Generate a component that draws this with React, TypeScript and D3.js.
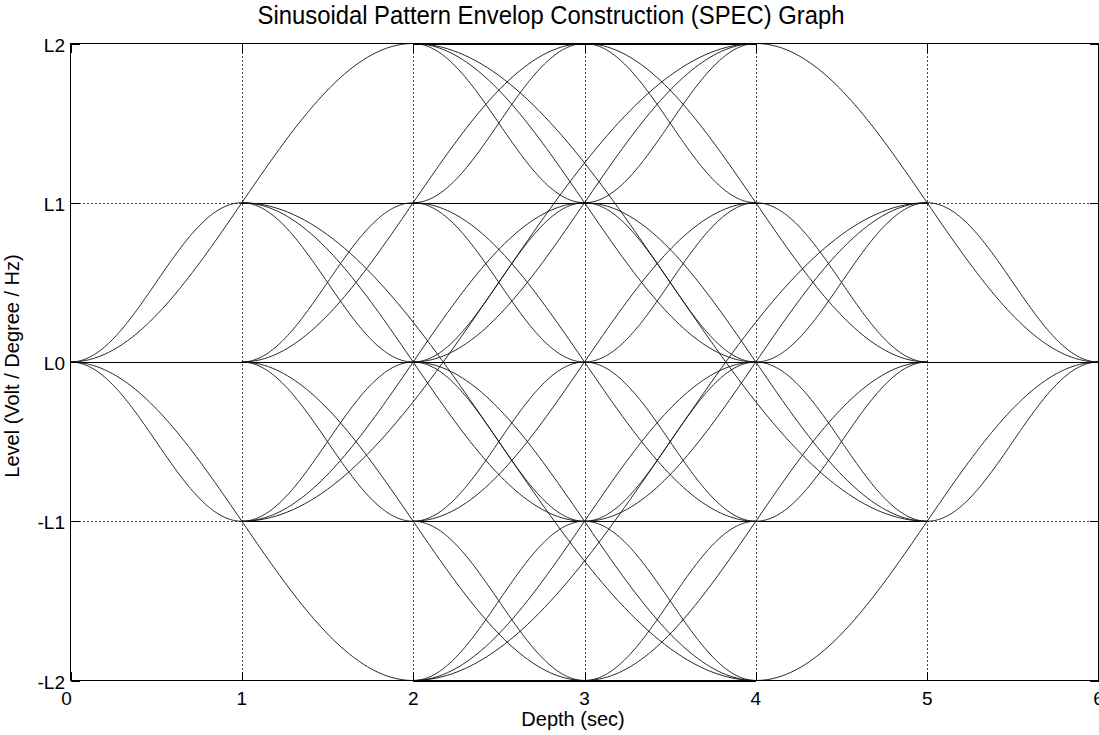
import React from 'react';
import * as d3 from 'd3';

const WIDTH = 1099;
const HEIGHT = 735;

// Axis ticks
const timeTicks = [0, 1, 2, 3, 4, 5, 6];
const levelTicks = [-2, -1, 0, 1, 2];
const levelLabels = ['-L2', '-L1', 'L0', 'L1', 'L2'];

// Held levels: [startTime, level, endTime, level]
const holdSegments: number[][] = [
  [0, 0, 6, 0],
  [1, 1, 5, 1],
  [1, -1, 5, -1],
  [2, 2, 4, 2],
  [2, -2, 4, -2],
];

// Rising sinusoidal ramps: [startTime, fromLevel, endTime, toLevel]
const risingRamps: number[][] = [
  [0, 0, 1, 1],
  [0, 0, 2, 2],
  [1, 0, 2, 1],
  [1, 0, 3, 2],
  [1, -1, 2, 0],
  [1, -1, 3, 1],
  [1, -1, 4, 2],
  [2, -2, 3, -1],
  [2, -2, 4, 0],
  [2, -2, 5, 1],
  [2, -1, 3, 0],
  [2, -1, 4, 1],
  [2, 0, 3, 1],
  [2, 0, 4, 2],
  [2, 1, 3, 2],
  [3, -2, 4, -1],
  [3, -2, 5, 0],
  [3, -1, 4, 0],
  [3, -1, 5, 1],
  [3, 0, 4, 1],
  [3, 1, 4, 2],
  [4, -2, 6, 0],
  [4, -1, 5, 0],
  [4, 0, 5, 1],
  [5, -1, 6, 0],
];

// Falling sinusoidal ramps: [startTime, fromLevel, endTime, toLevel]
const fallingRamps: number[][] = [
  [0, 0, 1, -1],
  [0, 0, 2, -2],
  [1, 0, 2, -1],
  [1, 0, 3, -2],
  [1, 1, 2, 0],
  [1, 1, 3, -1],
  [1, 1, 4, -2],
  [2, 2, 3, 1],
  [2, 2, 4, 0],
  [2, 2, 5, -1],
  [2, 1, 3, 0],
  [2, 1, 4, -1],
  [2, 0, 3, -1],
  [2, 0, 4, -2],
  [2, -1, 3, -2],
  [3, 2, 4, 1],
  [3, 2, 5, 0],
  [3, 1, 4, 0],
  [3, 1, 5, -1],
  [3, 0, 4, -1],
  [3, -1, 4, -2],
  [4, 2, 6, 0],
  [4, 1, 5, 0],
  [4, 0, 5, -1],
  [5, 1, 6, 0],
];

const PLOT = { left: 70.5, right: 1098.5, top: 43.5, bottom: 680.5 };

const x = d3.scaleLinear().domain([0, 6]).range([PLOT.left, PLOT.right]);
const y = d3.scaleLinear().domain([-2, 2]).range([PLOT.bottom, PLOT.top]);

// A ramp follows half a cosine period between its two end levels.
function rampPoints(seg: number[], steps = 90): [number, number][] {
  const [t0, a, t1, b] = seg;
  const pts: [number, number][] = [];
  for (let i = 0; i <= steps; i++) {
    const s = i / steps;
    pts.push([t0 + (t1 - t0) * s, a + (b - a) * (1 - Math.cos(Math.PI * s)) / 2]);
  }
  return pts;
}

const line = d3
  .line<[number, number]>()
  .x((d) => x(d[0]))
  .y((d) => y(d[1]));

const FONT = '"Liberation Sans", Arial, Helvetica, sans-serif';

export default function App() {
  const ramps = [...risingRamps, ...fallingRamps];
  const TICK = 9;
  return (
    <svg
      width={WIDTH}
      height={HEIGHT}
      viewBox={`0 0 ${WIDTH} ${HEIGHT}`}
      style={{ position: 'absolute', left: 0, top: 0, background: '#fff' }}
    >
      <rect x={0} y={0} width={WIDTH} height={HEIGHT} fill="#fff" />

      {/* dotted grid */}
      <g stroke="#444" strokeWidth={1} strokeDasharray="2,2" shapeRendering="crispEdges">
        {timeTicks.slice(1, -1).map((t) => (
          <line key={`gx${t}`} x1={Math.round(x(t)) + 0.5} x2={Math.round(x(t)) + 0.5} y1={PLOT.top} y2={PLOT.bottom} />
        ))}
        {levelTicks.slice(1, -1).map((v) => (
          <line key={`gy${v}`} x1={PLOT.left} x2={PLOT.right} y1={Math.round(y(v)) + 0.5} y2={Math.round(y(v)) + 0.5} />
        ))}
      </g>

      {/* held levels */}
      <g stroke="#000" strokeWidth={1} shapeRendering="crispEdges">
        {holdSegments.map((s, i) => (
          <line key={`h${i}`} x1={x(s[0])} x2={x(s[2])} y1={Math.round(y(s[1])) + 0.5} y2={Math.round(y(s[3])) + 0.5} />
        ))}
      </g>

      {/* sinusoidal ramps */}
      <g fill="none" stroke="#111" strokeWidth={0.9}>
        {ramps.map((s, i) => (
          <path key={`r${i}`} d={line(rampPoints(s)) || ''} />
        ))}
      </g>

      {/* axes box and ticks */}
      <g stroke="#000" strokeWidth={1} shapeRendering="crispEdges" fill="none">
        <rect x={PLOT.left} y={PLOT.top} width={PLOT.right - PLOT.left} height={PLOT.bottom - PLOT.top} />
        {timeTicks.map((t) => (
          <g key={`tx${t}`}>
            <line x1={Math.round(x(t)) + 0.5} x2={Math.round(x(t)) + 0.5} y1={PLOT.bottom} y2={PLOT.bottom - TICK} />
            <line x1={Math.round(x(t)) + 0.5} x2={Math.round(x(t)) + 0.5} y1={PLOT.top} y2={PLOT.top + TICK} />
          </g>
        ))}
        {levelTicks.map((v) => (
          <g key={`ty${v}`}>
            <line x1={PLOT.left} x2={PLOT.left + TICK} y1={Math.round(y(v)) + 0.5} y2={Math.round(y(v)) + 0.5} />
            <line x1={PLOT.right} x2={PLOT.right - TICK} y1={Math.round(y(v)) + 0.5} y2={Math.round(y(v)) + 0.5} />
          </g>
        ))}
      </g>

      {/* tick labels */}
      <g fontFamily={FONT} fontSize={19} fill="#000">
        {timeTicks.map((t) => (
          <text key={`lx${t}`} x={t === 0 ? x(t) - 4 : x(t)} y={705} textAnchor="middle">
            {t}
          </text>
        ))}
        {levelTicks.map((v, i) => (
          <text key={`ly${v}`} x={65} y={y(v) + 8} textAnchor="end">
            {levelLabels[i]}
          </text>
        ))}
      </g>

      {/* titles */}
      <text x={551} y={24} textAnchor="middle" fontFamily={FONT} fontSize={26} textLength={587} lengthAdjust="spacingAndGlyphs">
        Sinusoidal Pattern Envelop Construction (SPEC) Graph
      </text>
      <text x={573} y={726} textAnchor="middle" fontFamily={FONT} fontSize={20}>
        Depth (sec)
      </text>
      <text transform="translate(19,366) rotate(-90)" textAnchor="middle" fontFamily={FONT} fontSize={20}>
        Level (Volt / Degree / Hz)
      </text>
    </svg>
  );
}
